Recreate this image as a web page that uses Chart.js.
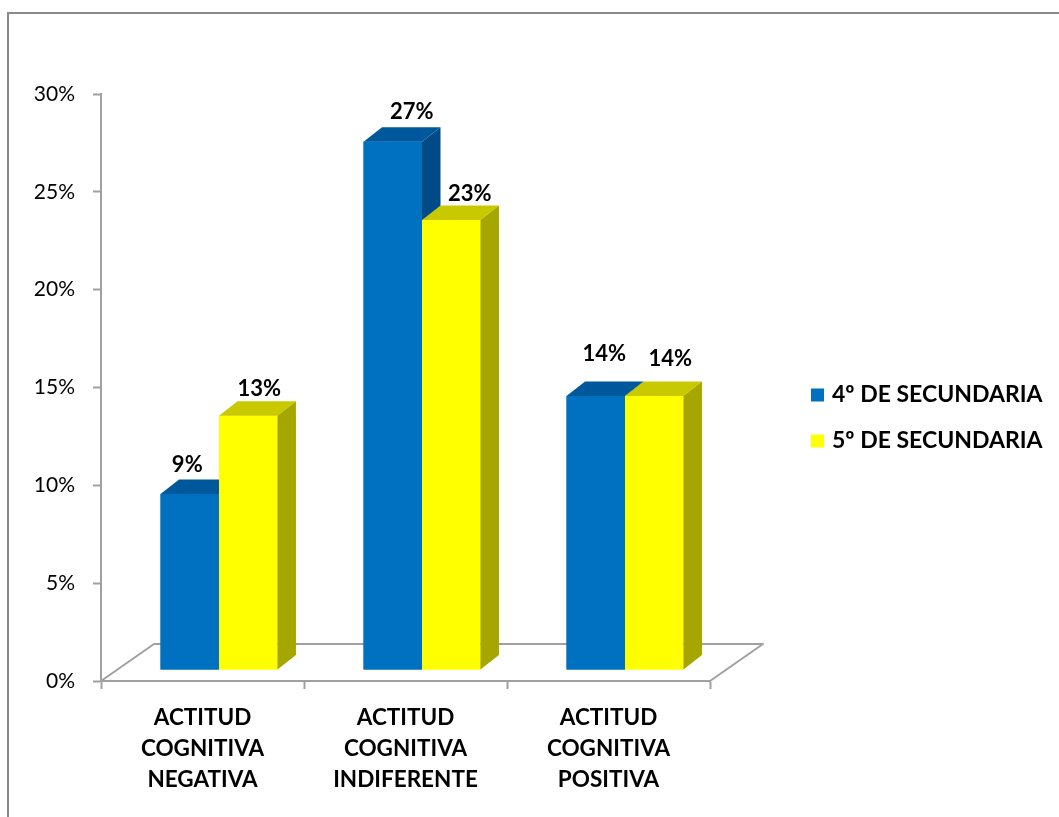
<!DOCTYPE html>
<html><head><meta charset="utf-8">
<script src="https://cdn.jsdelivr.net/npm/chart.js@4.4.1/dist/chart.umd.min.js"></script>
<style>html,body{margin:0;padding:0;background:#fff;overflow:hidden}
#wrap{position:relative;width:1059px;height:817px}</style>
</head><body><div id="wrap"><canvas id="c" width="1059" height="817"></canvas></div>
<script>
// ---- data ----
const categories = [
  ['ACTITUD', 'COGNITIVA', 'NEGATIVA'],
  ['ACTITUD', 'COGNITIVA', 'INDIFERENTE'],
  ['ACTITUD', 'COGNITIVA', 'POSITIVA']
];
const seriesNames = ['4º DE SECUNDARIA', '5º DE SECUNDARIA'];
const cuarto = [9, 27, 14];
const quinto = [13, 23, 14];
const yTickValues = [0, 5, 10, 15, 20, 25, 30];

// ---- styles ----
const FONT = 'Lato';
const AXIS_GRAY = '#a0a0a0';
const SHIFT = {dx: 16.5, dy: -11};       // bar front plane offset inside the 3D floor
const DEPTH = {dx: 18.5, dy: -14.5};     // bar depth
const FLOOR = {dx: 53, dy: -37};         // floor depth
const faceColors = [
  {front: '#0070C0', top: '#00589C', side: '#004B87'},
  {front: '#FFFF00', top: '#C9C900', side: '#A6A600'}
];
const labelOffsets = [
  [[-2.5, -28.5], [19, -30], [8.5, -42]],
  [[11, -27], [18.5, -26], [16, -37]]
];

const plugin3d = {
  id: 'plugin3d',
  beforeDraw(chart) {
    const ctx = chart.ctx, xs = chart.scales.x, ys = chart.scales.y;
    ctx.save();
    ctx.strokeStyle = '#8a8a8a'; ctx.lineWidth = 2;
    ctx.strokeRect(8, 13, 1300, 1000);
    const y0 = ys.getPixelForValue(0);
    ctx.beginPath();
    ctx.moveTo(xs.left, y0);
    ctx.lineTo(xs.left + FLOOR.dx, y0 + FLOOR.dy);
    ctx.lineTo(xs.right + FLOOR.dx, y0 + FLOOR.dy);
    ctx.lineTo(xs.right, y0);
    ctx.strokeStyle = AXIS_GRAY; ctx.lineWidth = 2; ctx.lineJoin = 'round';
    ctx.stroke();
    ctx.restore();
  },
  beforeDatasetDraw(chart) {
    chart.ctx.save();
    chart.ctx.translate(SHIFT.dx, SHIFT.dy);
  },
  afterDatasetDraw(chart) {
    chart.ctx.restore();
  },
  afterDatasetsDraw(chart) {
    const ctx = chart.ctx;
    ctx.save();
    ctx.translate(SHIFT.dx, SHIFT.dy);
    // painter's order: series 0 first, then series 1 over it
    chart.data.datasets.forEach((ds, di) => {
      const col = faceColors[di];
      chart.getDatasetMeta(di).data.forEach(bar => {
        bar.draw(ctx);  // front face
        const p = bar.getProps(['x', 'y', 'base', 'width'], true);
        const l = p.x - p.width / 2, r = p.x + p.width / 2, t = p.y, b = p.base;
        ctx.beginPath();
        ctx.moveTo(l, t); ctx.lineTo(r, t);
        ctx.lineTo(r + DEPTH.dx, t + DEPTH.dy); ctx.lineTo(l + DEPTH.dx, t + DEPTH.dy);
        ctx.closePath(); ctx.fillStyle = col.top; ctx.fill();
        ctx.beginPath();
        ctx.moveTo(r, t); ctx.lineTo(r + DEPTH.dx, t + DEPTH.dy);
        ctx.lineTo(r + DEPTH.dx, b + DEPTH.dy); ctx.lineTo(r, b);
        ctx.closePath(); ctx.fillStyle = col.side; ctx.fill();
      });
    });
    ctx.restore();
  },
  afterDraw(chart) {
    const ctx = chart.ctx;
    ctx.save();
    ctx.font = 'bold 22px ' + FONT;
    ctx.fillStyle = '#000';
    ctx.textAlign = 'center'; ctx.textBaseline = 'middle';
    chart.data.datasets.forEach((ds, di) => {
      chart.getDatasetMeta(di).data.forEach((bar, i) => {
        const p = bar.getProps(['x', 'y'], true);
        const o = labelOffsets[di][i];
        ctx.fillText(ds.data[i] + '%', p.x + SHIFT.dx + o[0], p.y + SHIFT.dy + o[1]);
      });
    });
    ctx.font = 'bold 23px ' + FONT;
    ctx.textAlign = 'left';
    seriesNames.forEach((name, i) => {
      const cy = 395 + i * 46;
      ctx.fillStyle = faceColors[i].front;
      ctx.fillRect(811, cy - 6.5, 13, 13);
      ctx.fillStyle = '#000';
      ctx.fillText(name, 832, cy);
    });
    ctx.restore();
  }
};

function build() {
  new Chart(document.getElementById('c'), {
    type: 'bar',
    data: {
      labels: categories,
      datasets: [
        {label: seriesNames[0], data: cuarto, backgroundColor: faceColors[0].front, clip: false,
         categoryPercentage: 0.576, barPercentage: 1},
        {label: seriesNames[1], data: quinto, backgroundColor: faceColors[1].front, clip: false,
         categoryPercentage: 0.576, barPercentage: 1}
      ]
    },
    options: {
      responsive: false,
      devicePixelRatio: 1,
      animation: false,
      layout: {padding: {left: 0, right: 349, top: 94, bottom: 0}},
      plugins: {legend: {display: false}, tooltip: {enabled: false}},
      scales: {
        y: {
          min: 0, max: 30,
          afterBuildTicks: s => { s.ticks = yTickValues.map(v => ({value: v})); },
          afterFit: s => { s.width = 101; },
          ticks: {callback: v => v + '%', color: '#000', font: {family: FONT, size: 21}, padding: 18},
          grid: {drawOnChartArea: false, drawTicks: true, tickLength: 8, tickColor: AXIS_GRAY, tickWidth: 2},
          border: {display: true, color: AXIS_GRAY, width: 2}
        },
        x: {
          afterFit: s => { s.height = 817 - 681; },
          ticks: {color: '#000', font: {family: FONT, size: 22.5, weight: 'bold', lineHeight: 31 / 22.5},
                  padding: 13.5, maxRotation: 0, autoSkip: false},
          grid: {offset: true, drawOnChartArea: false, drawTicks: true, tickLength: 8, tickColor: AXIS_GRAY, tickWidth: 2},
          border: {display: true, color: AXIS_GRAY, width: 2}
        }
      }
    },
    plugins: [plugin3d]
  });
}
Promise.all([
  document.fonts.load('21px Lato'), document.fonts.load('bold 21px Lato')
]).then(build, build);
</script></body></html>
